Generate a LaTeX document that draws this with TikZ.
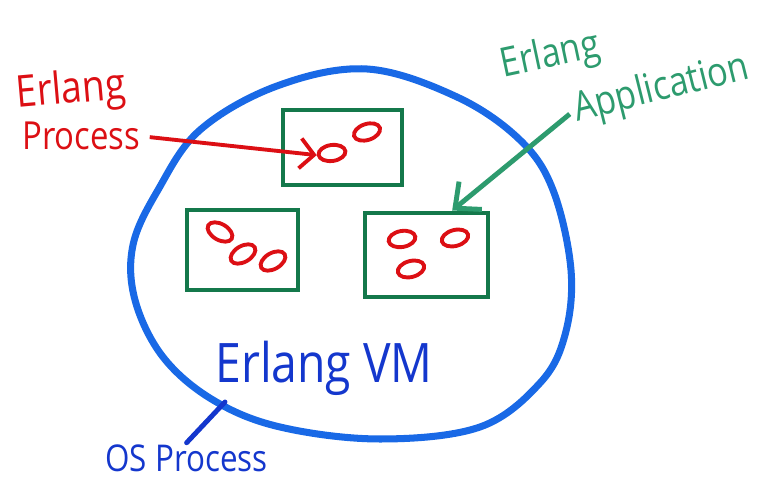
\documentclass[tikz,border=0pt]{standalone}
\usepackage{fontspec}
\usepackage{xcolor}
\usepackage{tikz}
\usetikzlibrary{arrows.meta,shapes.geometric}
\newfontfamily\hand[FakeStretch=0.85]{Open Sans}
\definecolor{vmblue}{RGB}{25,105,230}
\definecolor{txtblue}{RGB}{20,55,205}
\definecolor{appgreen}{RGB}{20,120,75}
\definecolor{lblgreen}{RGB}{45,155,110}
\definecolor{prred}{RGB}{220,15,20}
\tikzset{
  vm/.style={draw=vmblue,line width=2pt,line join=round},
  app/.style={draw=appgreen,line width=1.4pt,rectangle,inner sep=0pt},
  prc/.style={draw=prred,line width=1.1pt,ellipse,minimum width=2.7mm,minimum height=1.6mm,inner sep=0pt},
  lbl/.style={anchor=base west,inner sep=0.5pt},
  pa/.style={draw=prred,line width=1.1pt,shorten <=2pt,-{Straight Barb[length=1.4mm,width=3mm]}},
  aa/.style={draw=lblgreen,line width=1.4pt,shorten <=1pt,-{Straight Barb[length=2mm,width=3.6mm]}},
  os/.style={draw=txtblue,line width=1.4pt,line cap=round}
}
\newcommand{\prc}[4]{\node[prc,rotate=#4] (#1) at (#2,#3) {};}
\newcommand{\appbox}[5]{\node[app,minimum width=#4cm,minimum height=#5cm] (#1) at (#2,#3) {};}

\begin{document}
\begin{tikzpicture}
\useasboundingbox (0,0) rectangle (7.59,5);
\draw[vm] plot[smooth cycle,tension=0.6] coordinates {(3.67,4.31) (4.57,4.03) (5.20,3.60) (5.53,3.10) (5.71,2.30) (5.65,1.65) (5.40,1.17) (4.80,0.73) (3.80,0.61) (2.80,0.73) (2.13,1.00) (1.63,1.43) (1.35,2.00) (1.33,2.55) (1.58,3.10) (2.00,3.70) (2.77,4.14)};
\coordinate (vmos) at (2.25,0.98);
\appbox{appA}{3.425}{3.525}{1.19}{0.75}
\appbox{appB}{2.425}{2.50}{1.11}{0.80}
\appbox{appC}{4.265}{2.45}{1.23}{0.84}
\prc{pA1}{3.32}{3.47}{8} \prc{pA2}{3.67}{3.68}{18}
\prc{pB1}{2.20}{2.68}{-30} \prc{pB2}{2.43}{2.46}{30} \prc{pB3}{2.73}{2.39}{30}
\prc{pC1}{4.02}{2.61}{10} \prc{pC2}{4.55}{2.62}{15} \prc{pC3}{4.11}{2.31}{15}
\node[lbl,text=prred,font=\hand\fontsize{12.5}{14}\selectfont,rotate=5] (lblpra) at (0.15,3.92) {Erlang};
\node[lbl,text=prred,font=\hand\fontsize{11}{13}\selectfont] (lblprb) at (0.20,3.50) {Process};
\node[lbl,text=lblgreen,font=\hand\fontsize{11.5}{14}\selectfont,rotate=12] (lblappa) at (5.01,4.22) {Erlang};
\node[lbl,text=lblgreen,font=\hand\fontsize{11.5}{13}\selectfont,rotate=14] (lblappb) at (5.75,3.78) {Application};
\node[lbl,text=txtblue,font=\hand\fontsize{15.5}{18}\selectfont] (lblvm) at (2.13,1.17) {Erlang VM};
\node[lbl,text=txtblue,font=\hand\fontsize{10.5}{13}\selectfont] (lblos) at (1.03,0.28) {OS Process};
\draw[pa] (lblprb.east) -- (pA1.west);
\draw[aa] (lblappb.west) -- (appC.60);
\draw[os] (lblos.north) -- (vmos);
\end{tikzpicture}
\end{document}
